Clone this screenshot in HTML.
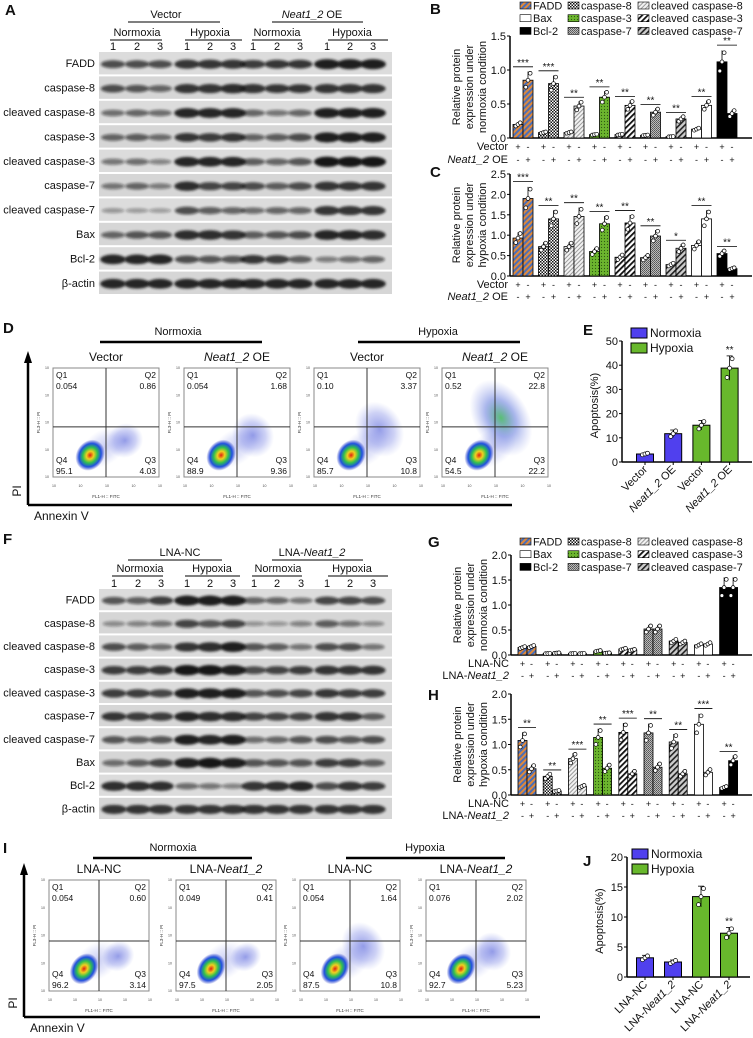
<!DOCTYPE html>
<html><head><meta charset="utf-8">
<style>
html,body{margin:0;padding:0;background:#fff;}
svg{display:block;font-family:"Liberation Sans",Arial,sans-serif;}
</style></head>
<body>
<svg id="fig" xmlns="http://www.w3.org/2000/svg" width="753" height="1038" viewBox="0 0 753 1038">
<defs>
  <filter id="blur1" x="-30%" y="-80%" width="160%" height="260%"><feGaussianBlur stdDeviation="1.3"/></filter>
  <pattern id="pFADD" width="4" height="4" patternUnits="userSpaceOnUse" patternTransform="rotate(45)"><rect width="4" height="4" fill="#4a6fb8"/><rect width="2" height="4" fill="#e0893a"/></pattern>
  <pattern id="pC8" width="3" height="3" patternUnits="userSpaceOnUse"><rect width="3" height="3" fill="#fff"/><rect width="1.5" height="1.5" fill="#111"/><rect x="1.5" y="1.5" width="1.5" height="1.5" fill="#111"/></pattern>
  <pattern id="pCl8" width="3" height="3" patternUnits="userSpaceOnUse" patternTransform="rotate(45)"><rect width="3" height="3" fill="#f2f2f2"/><rect width="1" height="3" fill="#9a9a9a"/></pattern>
  <pattern id="pC3" width="3" height="3" patternUnits="userSpaceOnUse"><rect width="3" height="3" fill="#6cb52e"/><circle cx="1.5" cy="1.5" r="0.6" fill="#2d5a10"/></pattern>
  <pattern id="pCl3" width="4" height="4" patternUnits="userSpaceOnUse" patternTransform="rotate(45)"><rect width="4" height="4" fill="#fff"/><rect width="1.8" height="4" fill="#111"/></pattern>
  <pattern id="pC7" width="2" height="2" patternUnits="userSpaceOnUse"><rect width="2" height="2" fill="#bbb"/><rect width="1" height="1" fill="#555"/><rect x="1" y="1" width="1" height="1" fill="#666"/></pattern>
  <pattern id="pCl7" width="4" height="4" patternUnits="userSpaceOnUse" patternTransform="rotate(45)"><rect width="4" height="4" fill="#ccc"/><rect width="1.6" height="4" fill="#222"/></pattern>
  <radialGradient id="gCore"><stop offset="0" stop-color="#e02010"/><stop offset="0.25" stop-color="#f0d020"/><stop offset="0.5" stop-color="#30c050"/><stop offset="0.75" stop-color="#2050e0"/><stop offset="1" stop-color="#2030c0" stop-opacity="0"/></radialGradient>
  <radialGradient id="gHaze"><stop offset="0" stop-color="#2a3ad0" stop-opacity="0.5"/><stop offset="0.6" stop-color="#3a4ad8" stop-opacity="0.25"/><stop offset="1" stop-color="#6070e0" stop-opacity="0"/></radialGradient>
  <radialGradient id="gHazeG"><stop offset="0" stop-color="#30b050" stop-opacity="0.8"/><stop offset="0.5" stop-color="#2a4ad0" stop-opacity="0.4"/><stop offset="1" stop-color="#6070e0" stop-opacity="0"/></radialGradient>
</defs>
</svg>
<script>
const categories = ["FADD","caspase-8","cleaved caspase-8","caspase-3","cleaved caspase-3","caspase-7","cleaved caspase-7","Bax","Bcl-2"];
const patterns = ["url(#pFADD)","url(#pC8)","url(#pCl8)","url(#pC3)","url(#pCl3)","url(#pC7)","url(#pCl7)","#fff","#000"];
const bCtrl = [0.20,0.08,0.08,0.05,0.05,0.04,0.02,0.13,1.12];
const bOE   = [0.85,0.80,0.47,0.60,0.48,0.38,0.28,0.48,0.36];
const bStars = ["***","***","**","**","**","**","**","**","**"];
const cCtrl = [0.93,0.72,0.72,0.60,0.46,0.45,0.28,0.75,0.55];
const cOE   = [1.90,1.40,1.46,1.28,1.30,0.98,0.68,1.40,0.18];
const cStars = ["***","**","**","**","**","**","*","**","**"];
const gNC   = [0.15,0.03,0.03,0.08,0.12,0.52,0.28,0.20,1.35];
const gLNA  = [0.17,0.04,0.03,0.04,0.10,0.52,0.25,0.22,1.35];
const hNC   = [1.08,0.37,0.72,1.14,1.24,1.23,1.05,1.40,0.15];
const hLNA  = [0.52,0.08,0.17,0.53,0.42,0.55,0.42,0.45,0.68];
const hStars = ["**","**","***","**","***","**","**","***","**"];
const bTicks = ["0.0","0.5","1.0","1.5"];
const cTicks = ["0.0","0.5","1.0","1.5","2.0","2.5"];
const ghTicks = ["0.0","0.5","1.0","1.5","2.0"];
const eLabels = ["Vector","Neat1_2 OE","Vector","Neat1_2 OE"];
const eValues = [3.3,11.7,15.2,38.8];
const eTicks = ["0","10","20","30","40","50"];
const jLabels = ["LNA-NC","LNA-Neat1_2","LNA-NC","LNA-Neat1_2"];
const jValues = [3.2,2.5,13.4,7.3];
const jTicks = ["0","5","10","15","20"];
const condColors = ["#5040ee","#5040ee","#68b82c","#68b82c"];
const dQuads = [["0.054","0.86","95.1","4.03"],["0.054","1.68","88.9","9.36"],["0.10","3.37","85.7","10.8"],["0.52","22.8","54.5","22.2"]];
const iQuads = [["0.054","0.60","96.2","3.14"],["0.049","0.41","97.5","2.05"],["0.054","1.64","87.5","10.8"],["0.076","2.02","92.7","5.23"]];
const blotA = [
 [.6,.6,.6,.8,.8,.8,.7,.75,.75,.95,.95,.95],
 [.6,.55,.45,.8,.8,.85,.8,.75,.75,.8,.8,.8],
 [.4,.45,.4,.9,.9,.9,.45,.35,.45,.95,.95,.95],
 [.45,.5,.4,.75,.7,.75,.45,.5,.6,.95,.95,.95],
 [.35,.4,.25,.9,.9,.9,.5,.45,.55,1,1,1],
 [.35,.45,.3,.85,.65,.65,.6,.5,.6,.8,.75,.8],
 [.15,.12,.1,.6,.5,.45,.4,.45,.45,.8,.8,.8],
 [.45,.55,.55,.85,.85,.8,.5,.55,.6,.9,.9,.85],
 [.9,.9,.9,.6,.55,.55,.75,.7,.5,.3,.4,.45],
 [.9,.9,.9,.9,.9,.9,.9,.9,.9,.9,.9,.9]];
const blotF = [
 [.55,.5,.7,.95,.95,.95,.45,.45,.35,.65,.65,.6],
 [.2,.25,.35,.65,.55,.65,.15,.12,.25,.5,.35,.2],
 [.6,.5,.4,.8,.85,.95,.55,.5,.35,.6,.6,.35],
 [.7,.7,.75,1,1,.95,.6,.65,.7,.8,.8,.8],
 [.7,.7,.65,.95,.95,.95,.55,.6,.65,.75,.7,.7],
 [.75,.7,.7,.9,.85,.85,.65,.65,.65,.8,.75,.5],
 [.55,.5,.55,.95,.9,.95,.4,.45,.55,.6,.55,.6],
 [.4,.5,.65,.95,1,.95,.55,.55,.55,.7,.7,.5],
 [.85,.85,.85,.4,.35,.25,.8,.85,.9,.6,.8,.7],
 [.8,.8,.8,.8,.8,.8,.8,.8,.8,.8,.8,.8]];
const blotRows = ["FADD","caspase-8","cleaved caspase-8","caspase-3","cleaved caspase-3","caspase-7","cleaved caspase-7","Bax","Bcl-2","β-actin"];

const NS="http://www.w3.org/2000/svg";
const svg=document.getElementById('fig');
function mk(tag,attrs,parent){const e=document.createElementNS(NS,tag);for(const k in attrs)e.setAttribute(k,attrs[k]);(parent||svg).appendChild(e);return e;}
function txt(s,x,y,size,anchor,parent,extra){const t=mk('text',Object.assign({x:x,y:y,'font-size':size,'text-anchor':anchor||'start',fill:'#111'},extra||{}),parent);t.textContent=s;return t;}
function itxt(parts,x,y,size,anchor,parent,extra){const t=mk('text',Object.assign({x:x,y:y,'font-size':size,'text-anchor':anchor||'start',fill:'#111'},extra||{}),parent);parts.forEach(p=>{const s=mk('tspan',p[1]?{'font-style':'italic'}:{},t);s.textContent=p[0];});return t;}
function neatParts(label){
  const i=label.indexOf('Neat1_2'); if(i<0) return [[label,false]];
  return [[label.slice(0,i),false],['Neat1_2',true],[label.slice(i+7),false]];
}
function panelLabel(s,x,y){const t=txt(s,x,y,15,'start',svg,{'font-weight':'bold'});}

function drawBlot(name,data,x0,x1,y0,pitch,lanes,headers){
  const g=mk('g',{});
  
  
  headers(g);
  data.forEach((row,ri)=>{
    const ry=y0+ri*pitch, rh=pitch-2;
    const bg=mk('rect',{x:x0,y:ry,width:x1-x0,height:rh,fill:ri%2?'#d6d6d6':'#dcdcdc'},g);
    
    
    const lab=txt(blotRows[ri],x0-4,ry+rh/2+4,11,'end',g);
    
    
    row.forEach((v,li)=>{
      const b=mk('ellipse',{cx:lanes[li],cy:ry+rh/2+1,rx:11+2*v,ry:2+3.2*v,fill:'#141414','fill-opacity':0.25+0.75*v,filter:'url(#blur1)'},g);
      
      
    });
  });
}
function hdr(g,label,cx,y,x1,x2,ital){itxt(ital?neatParts(label):[[label,false]],cx,y,11,'middle',g);mk('line',{x1:x1,x2:x2,y1:y+4,y2:y+4,stroke:'#555','stroke-width':1.5},g);}
function laneNums(g,lanes,y){lanes.forEach((x,i)=>txt(String(i%3+1),x,y,11,'middle',g));}
const lanesA=[113,137,160,187,210,233,253,277,300,327,350,373];
panelLabel('A',5,15);
drawBlot('western-blot-a',blotA,99,392,52,24.4,lanesA,g=>{
  hdr(g,'Vector',166,18,128,220,false);
  hdr(g,'Neat1_2 OE',312,18,272,363,true);
  hdr(g,'Normoxia',137,36,110,162,false);hdr(g,'Hypoxia',210,36,185,242,false);
  hdr(g,'Normoxia',277,36,252,302,false);hdr(g,'Hypoxia',352,36,328,388,false);
  laneNums(g,lanesA,50);
});
const lanesF=[114,138,161,187,210,233,254,277,301,327,350,373];
panelLabel('F',3,544);
drawBlot('western-blot-f',blotF,99,392,589,23.2,lanesF,g=>{
  hdr(g,'LNA-NC',180,556,128,222,false);
  hdr(g,'LNA-Neat1_2',312,556,272,363,true);
  hdr(g,'Normoxia',140,572,112,163,false);hdr(g,'Hypoxia',212,572,185,240,false);
  hdr(g,'Normoxia',278,572,252,302,false);hdr(g,'Hypoxia',352,572,328,388,false);
  laneNums(g,lanesF,587);
});

function pairChart(o){
  const g=mk('g',{});
  
  
  const yS=v=>o.y0-(v/o.max)*(o.y0-o.yTop);
  const xS=i=>o.gx0+i*o.gstep;
  mk('line',{x1:o.ax,x2:o.ax,y1:o.yTop,y2:o.y0,stroke:'#000','stroke-width':1.5},g);
  mk('line',{x1:o.ax,x2:o.axEnd,y1:o.y0,y2:o.y0,stroke:'#000','stroke-width':1.5},g);
  o.ticks.forEach((t,i)=>{const v=i*o.max/(o.ticks.length-1);const y=yS(v);
    mk('line',{x1:o.ax-3,x2:o.ax,y1:y,y2:y,stroke:'#000'},g);
    const tl=txt(t,o.ax-4,y+4,11,'end',g);});
  o.ytitle.forEach((l,i)=>{const yt=txt(l,0,0,11,'middle',g,{transform:`translate(${o.ax-50+i*13},${(o.y0+o.yTop)/2}) rotate(-90)`});});
  o.a.forEach((v,i)=>{
    [[v,-1],[o.b[i],1]].forEach(([val,side],k)=>{
      const cx=xS(i)+side*o.bw/2, y=yS(val);
      const r=mk('rect',{x:cx-o.bw/2,y:y,width:o.bw,height:o.y0-y,fill:patterns[i],stroke:'#000','stroke-width':0.8},g);
      
      
      mk('line',{x1:cx,x2:cx,y1:y,y2:yS(val*1.15),stroke:'#000','stroke-width':0.8},g);
      [0.88,1.0,1.12].forEach((f,j)=>{
        const d=mk('circle',{cx:cx+(j-1)*2.2,cy:yS(val*f),r:1.9,fill:'#fff',stroke:'#000','stroke-width':0.7},g);
        
        
      });
    });
    if(o.stars){const top=Math.max(v,o.b[i])*1.18;const sy=yS(top)-3;
      mk('line',{x1:xS(i)-o.bw,x2:xS(i)+o.bw,y1:sy,y2:sy,stroke:'#000','stroke-width':0.8},g);
      const st=txt(o.stars[i],xS(i),sy-1,10,'middle',g);}
    txt('+',xS(i)-o.bw/2,o.rowY[0],9,'middle',g);txt('-',xS(i)+o.bw/2,o.rowY[0],9,'middle',g);
    txt('-',xS(i)-o.bw/2,o.rowY[1],9,'middle',g);txt('+',xS(i)+o.bw/2,o.rowY[1],9,'middle',g);
  });
  const r1=itxt(neatParts(o.rows[0]),o.ax-2,o.rowY[0],11,'end',g);
  const r2=itxt(neatParts(o.rows[1]),o.ax-2,o.rowY[1],11,'end',g);
}
function legend9(x,y){
  const g=mk('g',{});
  
  
  const order=[[0,0,0],[1,1,0],[2,2,0],[7,0,1],[3,1,1],[4,2,1],[8,0,2],[5,1,2],[6,2,2]];
  const cols=[x,x+48,x+118];
  order.forEach(([ci,c,r])=>{
    const e=mk('rect',{x:cols[c],y:y+r*12.7-4,width:11,height:7,fill:patterns[ci],stroke:'#000','stroke-width':0.6},g);
    
    
    txt(categories[ci],cols[c]+13,y+r*12.7+3.5,11,'start',g);
  });
}
panelLabel('B',430,14);panelLabel('C',430,177);panelLabel('G',428,547);panelLabel('H',428,700);
legend9(520,6);
pairChart({name:'chart-b',a:bCtrl,b:bOE,stars:bStars,max:1.5,ticks:bTicks,y0:138,yTop:36,ax:510,axEnd:752,gx0:523,gstep:25.5,bw:10,
  ytitle:['Relative protein','expression under','normoxia condition'],rows:['Vector','Neat1_2 OE'],rowY:[150,163]});
pairChart({name:'chart-c',a:cCtrl,b:cOE,stars:cStars,max:2.5,ticks:cTicks,y0:276,yTop:174,ax:510,axEnd:752,gx0:523,gstep:25.5,bw:10,
  ytitle:['Relative protein','expression under','hypoxia condition'],rows:['Vector','Neat1_2 OE'],rowY:[288,300]});
legend9(520,542);
pairChart({name:'chart-g',a:gNC,b:gLNA,stars:null,max:2.0,ticks:ghTicks,y0:655,yTop:555,ax:511,axEnd:752,gx0:527,gstep:25.2,bw:9,
  ytitle:['Relative protein','expression under','normoxia condition'],rows:['LNA-NC','LNA-Neat1_2'],rowY:[667,679]});
pairChart({name:'chart-h',a:hNC,b:hLNA,stars:hStars,max:2.0,ticks:ghTicks,y0:795,yTop:694,ax:511,axEnd:752,gx0:527,gstep:25.2,bw:9,
  ytitle:['Relative protein','expression under','hypoxia condition'],rows:['LNA-NC','LNA-Neat1_2'],rowY:[807,819]});

function apopChart(o){
  const g=mk('g',{});
  
  
  const yS=v=>o.y0-(v/o.max)*(o.y0-o.yTop);
  const xS=i=>o.x0+i*o.step;
  mk('line',{x1:o.ax,x2:o.ax,y1:o.yTop,y2:o.y0,stroke:'#000','stroke-width':1.5},g);
  mk('line',{x1:o.ax,x2:o.axEnd,y1:o.y0,y2:o.y0,stroke:'#000','stroke-width':1.5},g);
  o.ticks.forEach((t,i)=>{const y=yS(i*o.max/(o.ticks.length-1));mk('line',{x1:o.ax-3,x2:o.ax,y1:y,y2:y,stroke:'#000'},g);txt(t,o.ax-4,y+4,11,'end',g);});
  const yt=txt('Apoptosis(%)',0,0,11,'middle',g,{transform:`translate(${o.ax-24},${(o.y0+o.yTop)/2+4}) rotate(-90)`});
  
  
  o.values.forEach((v,i)=>{
    const x=xS(i),y=yS(v);
    const r=mk('rect',{x:x-o.bw/2,y:y,width:o.bw,height:o.y0-y,fill:condColors[i],stroke:'#000','stroke-width':1},g);
    
    
    mk('line',{x1:x,x2:x,y1:yS(v*0.87),y2:yS(v*1.13),stroke:'#000','stroke-width':0.8},g);
    mk('line',{x1:x-3,x2:x+3,y1:yS(v*1.13),y2:yS(v*1.13),stroke:'#000','stroke-width':0.8},g);
    [0.9,1.0,1.1].forEach((f,j)=>{const d=mk('circle',{cx:x+(j-1)*2.5,cy:yS(v*f),r:2,fill:'#fff',stroke:'#000','stroke-width':0.7},g);
      
      });
    mk('line',{x1:x,x2:x,y1:o.y0,y2:o.y0+3,stroke:'#000'},g);
    const l=itxt(neatParts(o.labels[i]),x+3,o.y0+8,11,'end',g,{transform:`rotate(-45 ${x+3} ${o.y0+8})`});
    
    
  });
  txt('**',xS(3),yS(o.values[3]*1.13)-3,10,'middle',g);
  [['Normoxia','#5040ee'],['Hypoxia','#68b82c']].forEach(([n,c],i)=>{
    const s=mk('rect',{x:o.lx,y:o.ly+i*15,width:16,height:10,fill:c,stroke:'#000'},g);
    
    
    txt(n,o.lx+19,o.ly+i*15+9,12,'start',g);
  });
}
panelLabel('E',583,335);panelLabel('J',583,866);
apopChart({name:'chart-e',values:eValues,labels:eLabels,ticks:eTicks,max:50,y0:462,yTop:341,ax:622,axEnd:752,x0:645,step:28.2,bw:17,lx:631,ly:328});
apopChart({name:'chart-j',values:jValues,labels:jLabels,ticks:jTicks,max:20,y0:977,yTop:857,ax:627,axEnd:750,x0:645,step:28,bw:17,lx:632,ly:849});

function flowPanel(o){
  const g=mk('g',{});
  
  
  mk('line',{x1:o.axX,x2:o.axX,y1:o.axTop+8,y2:o.axY,stroke:'#000','stroke-width':2.5},g);
  mk('polygon',{points:`${o.axX-4},${o.axTop+10} ${o.axX+4},${o.axTop+10} ${o.axX},${o.axTop-2}`,fill:'#000'},g);
  mk('line',{x1:o.axX,x2:o.axRight,y1:o.axY,y2:o.axY,stroke:'#000','stroke-width':2.5},g);
  txt('PI',0,0,12,'middle',g,{transform:`translate(${o.axX-7},${o.axY-14}) rotate(-90)`});
  txt('Annexin V',o.axX+6,o.axY+15,12,'start',g);
  o.groups.forEach(([n,cx,x1,x2])=>{txt(n,cx,o.gy,11,'middle',g);mk('line',{x1:x1,x2:x2,y1:o.gy+7,y2:o.gy+7,stroke:'#000','stroke-width':2.5},g);});
  o.xs.forEach((x,i)=>{
    const y=o.y,w=o.w,h=o.h;
    itxt(neatParts(o.titles[i]),x+w/2,y-7,12,'middle',g);
    const pg=mk('g',{},g);
    
    
    mk('rect',{x:x,y:y,width:w,height:h,fill:'#fff',stroke:'#888','stroke-width':1},pg);
    const sp=o.spread[i];
    if(sp>0){mk('ellipse',{cx:x+w*0.7,cy:y+h*(0.7-0.08*sp),rx:w*0.16+sp*3,ry:h*0.12+sp*8,fill:sp>2?'url(#gHazeG)':'url(#gHaze)',transform:`rotate(-30 ${x+w*0.7} ${y+h*0.7})`},pg);}
    mk('ellipse',{cx:x+w*0.48,cy:y+h*0.73,rx:w*0.24,ry:h*0.16,fill:'url(#gHaze)','fill-opacity':0.5,transform:`rotate(-35 ${x+w*0.48} ${y+h*0.73})`},pg);
    mk('ellipse',{cx:x+w*0.35,cy:y+h*0.8,rx:w*0.13,ry:h*0.15,fill:'url(#gCore)',transform:`rotate(35 ${x+w*0.35} ${y+h*0.8})`},pg);
    mk('line',{x1:x+w*0.5,x2:x+w*0.5,y1:y,y2:y+h,stroke:'#333','stroke-width':1},pg);
    mk('line',{x1:x,x2:x+w,y1:y+h*o.hq,y2:y+h*o.hq,stroke:'#333','stroke-width':1},pg);
    const q=o.quads[i];
    txt('Q1',x+3,y+10,8.5,'start',pg);txt(q[0],x+3,y+21,8.5,'start',pg);
    txt('Q2',x+w-3,y+10,8.5,'end',pg);txt(q[1],x+w-3,y+21,8.5,'end',pg);
    txt('Q4',x+3,y+h-14,8.5,'start',pg);txt(q[2],x+3,y+h-3,8.5,'start',pg);
    txt('Q3',x+w-3,y+h-14,8.5,'end',pg);txt(q[3],x+w-3,y+h-3,8.5,'end',pg);
    for(let k=0;k<5;k++){txt('10',x+k*w/4+1,y+h+10,3.5,'middle',pg,{fill:'#444'});txt('10',x-6,y+h-k*h/4+1,3.5,'middle',pg,{fill:'#444'});}
    txt('FL1-H :: FITC',x+w/2,y+h+21,4.5,'middle',pg,{fill:'#333'});
    txt('FL3-H :: PI',0,0,4.5,'middle',pg,{fill:'#333',transform:`translate(${x-13},${y+h/2}) rotate(-90)`});
  });
}
panelLabel('D',3,333);panelLabel('I',3,853);
flowPanel({name:'flow-d',xs:[53,184,314,442],y:368,w:106,h:109,hq:0.54,quads:dQuads,
  titles:['Vector','Neat1_2 OE','Vector','Neat1_2 OE'],spread:[0.5,1.2,2,3.5],
  groups:[['Normoxia',178,100,262],['Hypoxia',438,358,520]],gy:335,axX:28,axTop:353,axY:505,axRight:512});
flowPanel({name:'flow-i',xs:[49,176,300,426],y:880,w:100,h:111,hq:0.55,quads:iQuads,
  titles:['LNA-NC','LNA-Neat1_2','LNA-NC','LNA-Neat1_2'],spread:[0.2,0.1,1.5,0.8],
  groups:[['Normoxia',173,93,252],['Hypoxia',425,346,505]],gy:851,axX:24,axTop:865,axY:1017,axRight:540});
</script>
</body></html>
